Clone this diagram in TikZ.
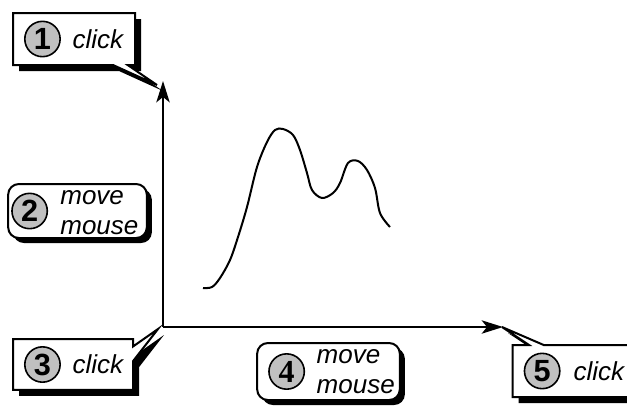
\documentclass[tikz,border=0pt]{standalone}
\usepackage{fontspec}
\setsansfont{Liberation Sans}
\newfontfamily\serifdigit{Liberation Serif}
\usepackage{tikz}
\usetikzlibrary{positioning,shapes.callouts,shadows,arrows.meta}
\definecolor{discgray}{HTML}{C0C0C0}
\newcommand\tagfont{\sffamily\itshape\fontsize{19.5}{22.5}\selectfont}
\newcommand\numfont{\sffamily\bfseries\fontsize{23}{23}\selectfont}

\begin{document}
\begin{tikzpicture}[x=0.75pt,y=-0.75pt,
      hardshadow/.style={drop shadow={shadow xshift=4.5pt,shadow yshift=-4.5pt,opacity=1,fill=black}},
      callbox/.style={rectangle callout,draw,fill=white,line width=1.5pt,inner sep=0pt,
        callout pointer width=11pt,hardshadow},
      roundbox/.style={rectangle,rounded corners=8pt,draw,fill=white,line width=1.5pt,inner sep=0pt,
        drop shadow={shadow xshift=3.75pt,shadow yshift=-3.75pt,opacity=1,fill=black}},
      numdisc/.style={circle,draw,fill=discgray,line width=1.2pt,minimum size=26.5pt,inner sep=0pt,font=\numfont},
      tag/.style={inner sep=0pt,align=left,font=\tagfont},
      axis/.style={line width=1.5pt,-{Stealth[length=16pt,width=10pt,inset=4pt]}},
      curve/.style={line width=1.5pt,line join=round}]
      \useasboundingbox (0,0) rectangle (627,405);
      \clip (0,0) rectangle (627,405);
      % axes
      \coordinate (origin) at (163,327);
      \coordinate (ytip) at (163,81);
      \coordinate (xtip) at (503,327);
      \coordinate (point1) at (157,85);
      \coordinate (point3) at (158,329);
      \coordinate (point5) at (502,327);
      \draw[axis] (origin)--(ytip);
      \draw[axis] (origin)--(xtip);
      % the traced curve
      \draw[curve] plot[smooth,tension=0.55] coordinates {(203,288) (212,287) (220,278) (230,260)
        (238,237) (247,207) (257,167) (267,142) (275,130) (283,129) (293,135) (300,150)
        (307,173) (312,190) (322,198) (333,193) (340,183) (348,163) (358,161) (367,170)
        (375,188) (380,213) (390,227)};
      % callouts
      \node[callbox,minimum width=91.5pt,minimum height=39pt,callout absolute pointer={(point1)}] (box1) at (74,39) {};
      \node[numdisc,right=9pt of box1.west] (num1) {1};
      \node[tag,right=8.5pt of num1] (tag1) {click};
      \node[roundbox,minimum width=104pt,minimum height=40.5pt] (box2) at (77.5,211) {};
      \node[numdisc,right=3pt of box2.west] (num2) {2};
      \node[tag,right=9pt of num2,yshift=-1pt] (tag2) {move\\mouse};
      \node[callbox,minimum width=90pt,minimum height=38pt,callout absolute pointer={(point3)}] (box3) at (73,364.5) {};
      \node[numdisc,right=9pt of box3.west] (num3) {3};
      \node[tag,right=8.5pt of num3] (tag3) {click};
      \node[roundbox,minimum width=107pt,minimum height=42.75pt] (box4) at (328.5,371.5) {};
      \node[numdisc,right=9pt of box4.west,font=\serifdigit\bfseries\fontsize{24}{24}\selectfont] (num4) {4};
      \node[tag,right=8.5pt of num4] (tag4) {move\\mouse};
      \node[callbox,minimum width=110pt,minimum height=39pt,callout absolute pointer={(point5)}] (box5) at (586,371) {};
      \node[numdisc,right=9pt of box5.west] (num5) {5};
      \node[tag,right=9.5pt of num5] (tag5) {click};
    \end{tikzpicture}
\end{document}
